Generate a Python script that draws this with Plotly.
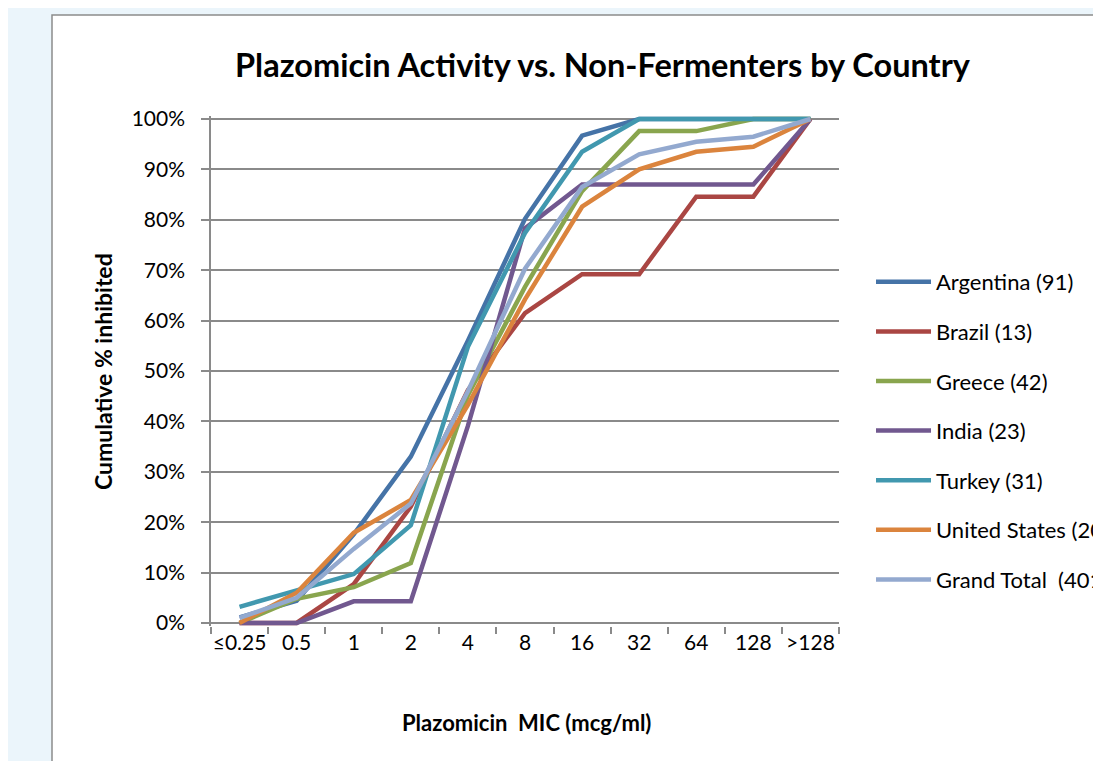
import plotly.graph_objects as go

categories = ["≤0.25", "0.5", "1", "2", "4", "8", "16", "32", "64", "128", ">128"]

argentina = [1.1, 4.4, 17.6, 33.0, 56.0, 80.2, 96.7, 100, 100, 100, 100]
brazil = [0, 0, 7.7, 23.1, 46.2, 61.5, 69.2, 69.2, 84.6, 84.6, 100]
greece = [0, 4.8, 7.1, 11.9, 45.2, 66.7, 85.7, 97.6, 97.6, 100, 100]
india = [0, 0, 4.3, 4.3, 39.1, 78.3, 87.0, 87.0, 87.0, 87.0, 100]
turkey = [3.2, 6.5, 9.7, 19.4, 54.8, 77.4, 93.5, 100, 100, 100, 100]
united_states = [0.0, 6.0, 17.9, 24.4, 43.3, 64.2, 82.6, 90.0, 93.5, 94.5, 100]
grand_total = [1.0, 5.0, 14.7, 23.7, 46.0, 70.3, 86.5, 93.0, 95.5, 96.5, 100]

series_names = ["Argentina (91)", "Brazil (13)", "Greece (42)", "India (23)",
                "Turkey (31)", "United States (201)", "Grand Total  (401)"]
series_values = [argentina, brazil, greece, india, turkey, united_states, grand_total]
colors = ["#4573A7", "#AA4643", "#89A54E", "#71588F", "#4198AF", "#DB843D", "#93A9CF"]

FONT = "Lato"


def px(x_ref):
    return (x_ref - 211) / 628


def py(y_ref):
    return (626 - y_ref) / 510


fig = go.Figure()
for name, vals, col in zip(series_names, series_values, colors):
    fig.add_trace(go.Scatter(
        x=categories, y=[v / 100 for v in vals], name=name, mode="lines",
        line=dict(color=col, width=4.5), legendgroup=name,
    ))

fig.update_layout(
    width=1101, height=761,
    margin=dict(l=203, r=270, t=108, b=143, autoexpand=False),
    paper_bgcolor="#EBF5FB",
    plot_bgcolor="white",
    font=dict(family=FONT, size=21, color="black"),
    showlegend=True,
    legend=dict(x=px(871), xanchor="left", y=py(261), yanchor="top",
                tracegroupgap=18, itemwidth=55, font=dict(size=22, family=FONT),
                bgcolor="rgba(0,0,0,0)"),
    shapes=[dict(type="rect", xref="paper", yref="paper",
                 x0=px(52), x1=px(1130), y0=py(790), y1=py(15),
                 fillcolor="white", line=dict(color="#8C8C8C", width=1.5),
                 layer="below")],
    annotations=[
        dict(text="<b>Plazomicin Activity vs. Non-Fermenters by Country</b>",
             xref="paper", yref="paper", x=px(603), y=py(65),
             xanchor="center", yanchor="middle", showarrow=False,
             font=dict(size=32.5, family=FONT)),
        dict(text="<b>Cumulative % inhibited</b>", textangle=-90,
             xref="paper", yref="paper", x=px(103), y=py(372),
             xanchor="center", yanchor="middle", showarrow=False,
             font=dict(size=23, family=FONT)),
        dict(text="<b>Plazomicin  MIC (mcg/ml)</b>",
             xref="paper", yref="paper", x=px(526), y=py(722),
             xanchor="center", yanchor="middle", showarrow=False,
             font=dict(size=22, family=FONT)),
    ],
)

fig.update_xaxes(
    type="category", categoryorder="array", categoryarray=categories,
    range=[-0.5, len(categories) - 0.5],
    showgrid=False, showline=False, ticks="outside", tickson="boundaries",
    ticklen=7, tickcolor="#8A8A8A", tickwidth=1.5, tickangle=0,
    tickfont=dict(size=21, family=FONT), ticklabelstandoff=2,
)
fig.update_yaxes(
    range=[-0.006, 1.006], tickvals=[i / 10 for i in range(11)],
    tickformat=".0%", showgrid=True, gridcolor="#8A8A8A", gridwidth=1.5,
    zeroline=True, zerolinecolor="#8A8A8A", zerolinewidth=1.5,
    showline=True, linecolor="#8A8A8A", linewidth=1.5,
    ticks="outside", ticklen=8, tickcolor="#8A8A8A", tickwidth=1.5,
    tickfont=dict(size=21, family=FONT), ticklabelstandoff=12,
)

fig.write_html("out.html")
